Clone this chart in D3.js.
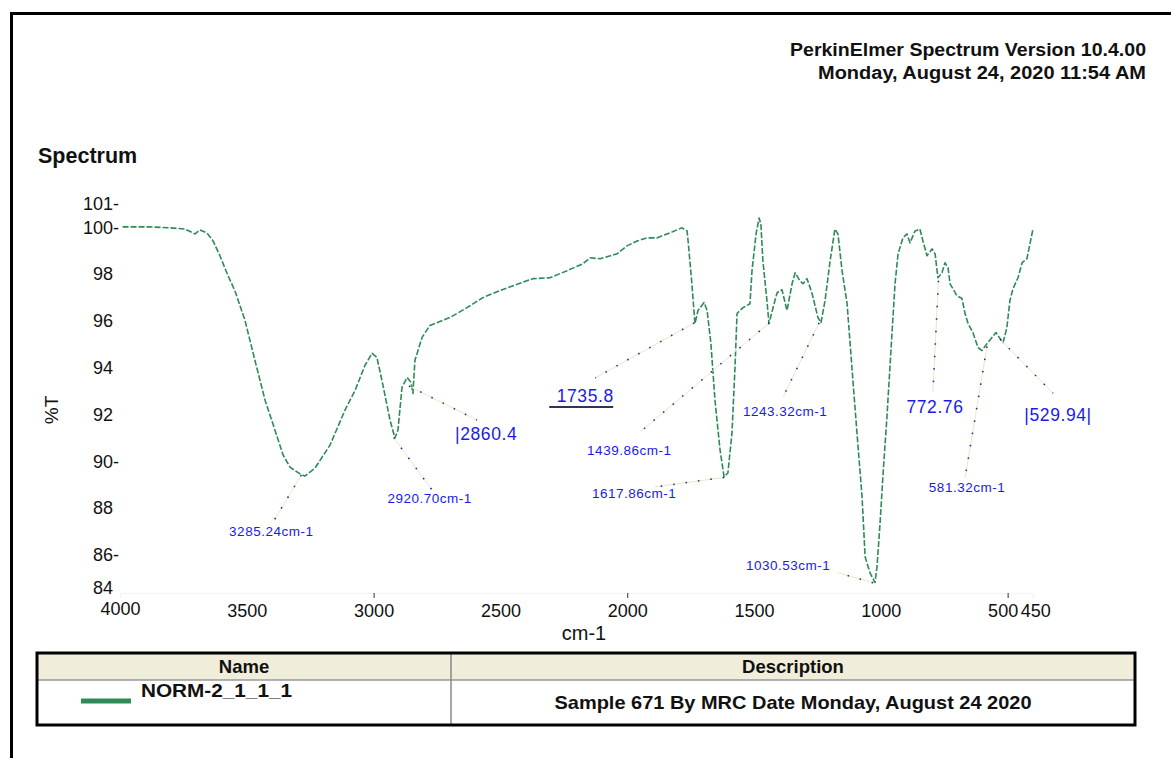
<!DOCTYPE html>
<html><head><meta charset="utf-8">
<script src="https://cdn.jsdelivr.net/npm/d3@7"></script>
<style>
html,body{margin:0;padding:0;background:#fff;}
svg{display:block;font-family:"Liberation Sans",Arial,sans-serif;}
</style></head>
<body><svg id="c" width="1171" height="758"></svg>
<script>
// ---------- data ----------
const wavenumber = [3990,3882,3803,3744,3704,3685,3657,3633,3606,3574,
3547,3507,3468,3428,3389,3357,3330,3290,3271,3231,
3172,3113,3073,3034,3006,2987,2963,2935,2916,2904,
2888,2868,2853,2845,2837,2809,2778,2699,2632,2569,
2502,2372,2305,2237,2174,2147,2107,2040,2001,1961,
1922,1883,1843,1784,1764,1760,1745,1733,1721,1697,
1685,1670,1654,1634,1618,1603,1587,1575,1567,1544,
1516,1508,1492,1480,1473,1465,1449,1441,1425,1409,
1390,1370,1350,1338,1319,1307,1291,1271,1248,1236,
1220,1200,1181,1169,1153,1133,1129,1114,1094,1074,
1062,1043,1023,1015,1003,991,976,956,944,932,
913,897,885,865,846,834,818,798,786,775,
759,747,735,727,700,680,668,656,637,617,
601,581,562,546,530,518,503,491,479,459,
443,424,412,400];
const transmittance = [100.0,100.0,99.96,99.91,99.70,99.87,99.74,99.40,98.77,97.91,
97.28,96.0,94.30,92.60,91.32,90.26,89.74,89.45,89.36,89.70,
90.68,92.17,93.02,94.09,94.60,94.43,93.23,91.74,90.98,91.32,
93.15,93.57,93.36,92.89,94.30,95.28,95.79,96.13,96.55,96.98,
97.28,97.79,97.83,98.13,98.43,98.68,98.64,98.85,99.19,99.40,
99.53,99.53,99.70,99.96,99.83,99.40,97.57,95.87,96.43,96.77,
96.43,95.02,92.60,90.47,89.32,89.49,91.19,94.0,96.30,96.55,
96.72,98.13,99.70,100.38,100.13,98.55,96.85,95.87,96.55,97.19,
97.32,96.43,97.57,98.04,97.70,97.57,97.79,97.15,96.13,95.91,
96.85,98.55,99.91,99.70,98.13,96.72,96.13,94.0,91.19,88.47,
85.91,85.23,84.81,85.49,87.36,89.49,91.87,95.45,97.57,98.85,
99.53,99.70,99.32,99.83,99.91,99.40,98.77,99.06,98.85,97.83,
98.04,98.47,98.26,97.57,97.06,96.94,96.30,95.87,95.49,94.85,
94.72,95.02,95.28,95.49,95.23,95.06,95.70,96.85,97.36,97.83,
98.47,98.64,99.28,99.91];

const xTicks = [4000,3500,3000,2500,2000,1500,1000,500,450];
const xTickMarks = [3000,2000,500];
const yTicks = [101,100,98,96,94,92,90,88,86,84];
const yDashTicks = [101,100,90,86];

const peakWn = [3285.24,2920.70,2860.4,1735.8,1617.86,1439.86,1243.32,1030.53,772.76,581.32,529.94];
const peakT = [89.4,91.0,93.2,95.9,89.3,95.9,95.9,84.8,97.7,94.9,95.2];
const peakLabels = ["3285.24cm-1","2920.70cm-1","|2860.4","1735.8","1617.86cm-1","1439.86cm-1","1243.32cm-1","1030.53cm-1","772.76","581.32cm-1","|529.94|"];

const headerLines = ["PerkinElmer Spectrum Version 10.4.00","Monday, August 24, 2020 11:54 AM"];
const sampleName = "NORM-2_1_1_1";
const sampleDesc = "Sample 671 By MRC Date Monday, August 24 2020";

// ---------- layout (label placement offsets from the peak point) ----------
// [leaderDx, leaderDy, textDx, textDy, anchor, big, underline]
const peakLayout = [
 [-27,45,-30,61,"middle",0,0],
 [38,52,36,65,"middle",0,0],
 [68,34,46,54,"start",1,0],
 [-99,55,-109,79,"middle",1,1],
 [-69,9.5,-90,20.5,"middle",0,0],
 [-129,109,-140,132,"middle",0,0],
 [-36,74,-34,93,"middle",0,0],
 [-35,-10,-85,-13,"middle",0,0],
 [-5.5,111,-3.5,132,"middle",1,0],
 [-22,132,-20,146,"middle",0,0],
 [53,54,58,82,"middle",1,0]
];
const headerWidths = [356,328];

const svg = d3.select("#c");
const green = "#2e8b57";
const blue = "#1a1aee";
const ink = "#111";

// frame
svg.append("path").attr("d","M11.5,760 V13.5 H1175").attr("fill","none").attr("stroke","#000").attr("stroke-width",3);

// header
svg.selectAll("text.hdr").data(headerLines).join("text")
  .attr("x",1146).attr("y",(d,i)=>56+i*23).attr("text-anchor","end")
  .attr("font-size",17.5).attr("font-weight","bold").attr("fill",ink)
  .attr("textLength",(d,i)=>headerWidths[i]).attr("lengthAdjust","spacingAndGlyphs").text(d=>d);
svg.append("text").attr("x",38).attr("y",163).attr("font-size",21.5).attr("font-weight","bold").attr("fill",ink).text("Spectrum");

// scales
const x = d3.scaleLinear().domain([4000,400]).range([120,1033]);
const y = d3.scaleLinear().domain([84,101]).range([601.5,203.5]);

// y axis
const yAxis = svg.append("g").attr("transform","translate(113,0)")
  .call(d3.axisLeft(y).tickValues(yTicks).tickSize(0).tickPadding(0).tickFormat(d=>d));
yAxis.select(".domain").remove();
yAxis.selectAll("text").attr("font-size",18).attr("font-family","Liberation Sans, Arial, sans-serif").attr("fill",ink)
  .attr("dy",d=>d===84?"-0.47em":"0.34em");
yAxis.selectAll(".tick").filter(d=>yDashTicks.includes(d)).append("text")
  .attr("x",0).attr("dy","0.34em").attr("text-anchor","start").attr("font-size",18).attr("fill",ink).text("-");

// x axis
const xAxis = svg.append("g").attr("transform","translate(0,593)")
  .call(d3.axisBottom(x).tickValues(xTicks).tickSize(5).tickPadding(6).tickFormat(d=>d));
xAxis.select(".domain").attr("stroke","#f2f2f2");
xAxis.selectAll("line").attr("stroke",d=>xTickMarks.includes(d)?"#333":"none");
xAxis.selectAll("text").attr("font-size",18).attr("font-family","Liberation Sans, Arial, sans-serif").attr("fill",ink);
xAxis.selectAll(".tick").filter(d=>d===4000).select("text").attr("dy","0.61em");
xAxis.selectAll(".tick").filter(d=>d===450).select("text").attr("text-anchor","start").attr("dx",0);
xAxis.selectAll(".tick").filter(d=>d===500).select("text").attr("dx",-5);

svg.append("text").attr("x",584).attr("y",640).attr("text-anchor","middle").attr("font-size",20).attr("fill",ink).text("cm-1");
svg.append("text").attr("transform","translate(58,410) rotate(-90)").attr("text-anchor","middle").attr("font-size",19).attr("fill",ink).text("%T");

// spectrum line
const pts = wavenumber.map((w,i)=>[w,transmittance[i]]);
const line = d3.line().x(d=>x(d[0])).y(d=>y(d[1]));
svg.append("path").datum(pts).attr("d",line).attr("fill","none")
  .attr("stroke",green).attr("stroke-width",1.6).attr("stroke-dasharray","6,2").attr("stroke-linejoin","round");

// peak annotations
const ann = svg.append("g");
peakWn.forEach((w,i)=>{
  const L = peakLayout[i];
  const px = x(w), py = y(peakT[i]);
  ann.append("line").attr("x1",px).attr("y1",py).attr("x2",px+L[0]).attr("y2",py+L[1])
    .attr("stroke","#ece6c4").attr("stroke-width",1);
  ann.append("line").attr("x1",px).attr("y1",py).attr("x2",px+L[0]).attr("y2",py+L[1])
    .attr("stroke","#2a2a8a").attr("stroke-width",1.6).attr("stroke-dasharray","1.5,11");
  ann.append("text").attr("x",px+L[2]).attr("y",py+L[3]).attr("text-anchor",L[4])
    .attr("font-size",L[5]?17.5:13.5).attr("letter-spacing",L[5]?0.6:0.5)
    .attr("fill",blue).text(peakLabels[i]);
  if(L[6]){
    ann.append("line").attr("x1",px+L[2]-36).attr("x2",px+L[2]+28).attr("y1",py+L[3]+5).attr("y2",py+L[3]+5)
      .attr("stroke","#333355").attr("stroke-width",2);
  }
});

// table
const T0 = {x:37,y:653,w:1098,h:72,hh:27,div:451};
svg.append("rect").attr("x",T0.x).attr("y",T0.y).attr("width",T0.w).attr("height",T0.hh).attr("fill","#f0eedb");
svg.append("line").attr("x1",T0.x).attr("x2",T0.x+T0.w).attr("y1",T0.y+T0.hh).attr("y2",T0.y+T0.hh).attr("stroke","#999").attr("stroke-width",1.5);
svg.append("line").attr("x1",T0.div).attr("x2",T0.div).attr("y1",T0.y).attr("y2",T0.y+T0.h).attr("stroke","#888").attr("stroke-width",1.5);
svg.append("rect").attr("x",T0.x).attr("y",T0.y).attr("width",T0.w).attr("height",T0.h).attr("fill","none").attr("stroke","#000").attr("stroke-width",3);
svg.append("text").attr("x",(T0.x+T0.div)/2).attr("y",673).attr("text-anchor","middle").attr("font-size",18.5).attr("font-weight","bold").attr("fill",ink).text("Name");
svg.append("text").attr("x",(T0.div+T0.x+T0.w)/2).attr("y",673).attr("text-anchor","middle").attr("font-size",18.5).attr("font-weight","bold").attr("fill",ink).text("Description");
svg.append("line").attr("x1",81).attr("x2",131).attr("y1",701).attr("y2",701).attr("stroke",green).attr("stroke-width",5);
svg.append("text").attr("x",141).attr("y",697).attr("font-size",19).attr("font-weight","bold").attr("fill",ink)
  .attr("textLength",151).attr("lengthAdjust","spacingAndGlyphs").text(sampleName);
svg.append("text").attr("x",(T0.div+T0.x+T0.w)/2).attr("y",709).attr("text-anchor","middle").attr("font-size",19).attr("font-weight","bold").attr("fill",ink)
  .attr("textLength",477).attr("lengthAdjust","spacingAndGlyphs").text(sampleDesc);
</script></body></html>
